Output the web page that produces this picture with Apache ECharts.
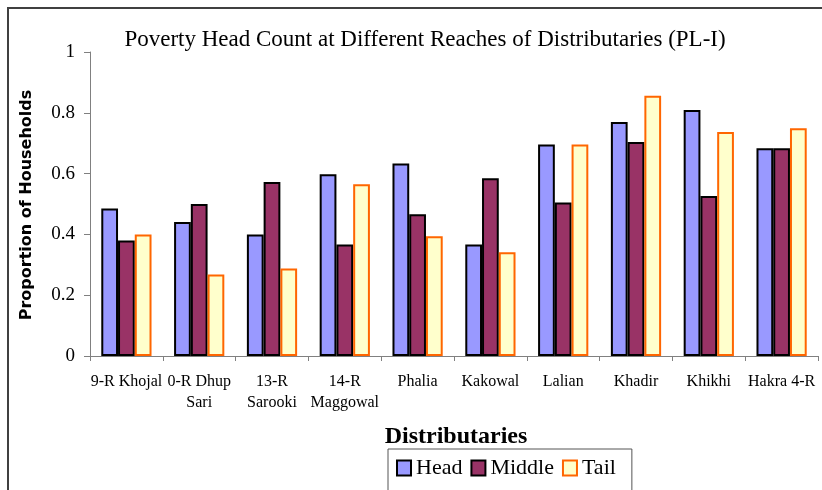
<!DOCTYPE html>
<html>
<head>
<meta charset="utf-8">
<script src="https://cdn.jsdelivr.net/npm/echarts@6/dist/echarts.min.js"></script>
<style>
html,body{margin:0;padding:0;background:#fff;}
#chart{width:822px;height:490px;}
</style>
</head>
<body>
<div id="chart"></div>
<script>
var categories = ["9-R Khojal", "0-R Dhup\nSari", "13-R\nSarooki", "14-R\nMaggowal", "Phalia", "Kakowal", "Lalian", "Khadir", "Khikhi", "Hakra 4-R"];
var headValues = [0.485, 0.441, 0.40, 0.598, 0.633, 0.367, 0.696, 0.77, 0.809, 0.683];
var middleValues = [0.38, 0.50, 0.572, 0.367, 0.466, 0.585, 0.505, 0.704, 0.526, 0.683];
var tailValues = [0.40, 0.268, 0.288, 0.565, 0.394, 0.341, 0.696, 0.856, 0.737, 0.749];
var yTicks = [0, 0.2, 0.4, 0.6, 0.8, 1];

var serif = "'Liberation Serif', 'Times New Roman', serif";
var chart = echarts.init(document.getElementById('chart'), null, {renderer: 'canvas'});
chart.setOption({
  backgroundColor: '#ffffff',
  animation: false,
  title: {
    text: 'Poverty Head Count at Different Reaches of Distributaries (PL-I)',
    left: 420, top: 23, textAlign: 'center',
    textStyle: {fontFamily: serif, fontSize: 23, fontWeight: 'normal', color: '#000'}
  },
  legend: {
    data: ['Head', 'Middle', 'Tail'],
    left: 388, top: 449,
    padding: [8, 16, 20, 8],
    itemGap: 8,
    icon: 'rect',
    itemWidth: 14, itemHeight: 15,
    borderColor: '#555', borderWidth: 1,
    textStyle: {fontFamily: serif, fontSize: 22, color: '#000', padding: [0, 0, 0, 0]}
  },
  grid: {left: 90, right: 4, top: 52, bottom: 134},
  xAxis: {
    type: 'category',
    data: categories,
    axisLine: {lineStyle: {color: '#808080', width: 1}},
    axisTick: {show: true, length: 5, alignWithLabel: false, lineStyle: {color: '#808080'}},
    axisLabel: {interval: 0, fontFamily: serif, fontSize: 16, color: '#000', margin: 15, lineHeight: 21}
  },
  yAxis: {
    type: 'value', min: 0, max: 1, interval: 0.2,
    splitLine: {show: false},
    axisLine: {show: true, lineStyle: {color: '#808080', width: 1}},
    axisTick: {show: true, length: 6, lineStyle: {color: '#808080'}},
    axisLabel: {fontFamily: serif, fontSize: 19, color: '#000', margin: 15,
      formatter: function (v) { return String(+v.toFixed(1)); }}
  },
  series: [
    {name: 'Head', type: 'bar', data: headValues, barGap: '0%', barCategoryGap: '31%',
     itemStyle: {color: '#9999FF', borderColor: '#000', borderWidth: 2}},
    {name: 'Middle', type: 'bar', data: middleValues, barGap: '0%', barCategoryGap: '31%',
     itemStyle: {color: '#993366', borderColor: '#000', borderWidth: 2}},
    {name: 'Tail', type: 'bar', data: tailValues, barGap: '0%', barCategoryGap: '31%',
     itemStyle: {color: '#FFFFCC', borderColor: '#FF6600', borderWidth: 2}}
  ],
  graphic: [
    {type: 'line', shape: {x1: 7, y1: 8, x2: 822, y2: 8}, style: {stroke: '#404040', lineWidth: 2}},
    {type: 'line', shape: {x1: 8, y1: 7, x2: 8, y2: 490}, style: {stroke: '#404040', lineWidth: 2}},
    {type: 'text', x: 456, y: 437, style: {text: 'Distributaries', fontFamily: serif, fontSize: 24, fontWeight: 'bold', fill: '#000', align: 'center', verticalAlign: 'middle'}},
    {type: 'text', x: 27, y: 205, rotation: Math.PI / 2, style: {text: 'Proportion of Households', fontFamily: "'DejaVu Sans', sans-serif", fontSize: 16, fontWeight: 'bold', fill: '#000', align: 'center', verticalAlign: 'middle'}}
  ]
});
</script>
</body>
</html>
